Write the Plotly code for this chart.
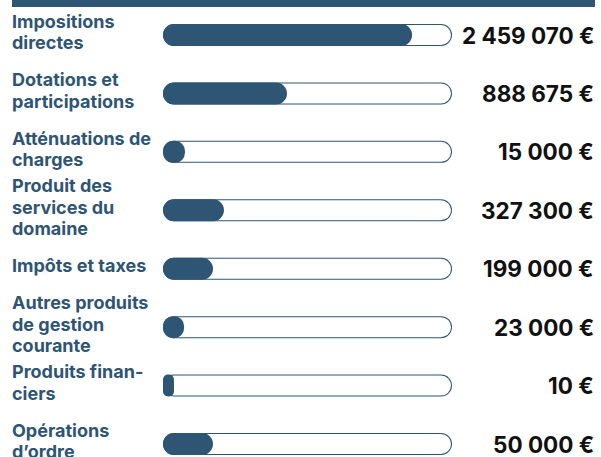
import plotly.graph_objects as go

categories = [
    "Impositions<br>directes",
    "Dotations et<br>participations",
    "Atténuations de<br>charges",
    "Produit des<br>services du<br>domaine",
    "Impôts et taxes",
    "Autres produits<br>de gestion<br>courante",
    "Produits finan-<br>ciers",
    "Opérations<br>d’ordre",
]
value_labels = [
    "2 459 070 €",
    "888 675 €",
    "15 000 €",
    "327 300 €",
    "199 000 €",
    "23 000 €",
    "10 €",
    "50 000 €",
]
# filled share of each gauge (percent of track)
fill_pct = [86.2, 42.9, 7.6, 21.1, 17.3, 7.3, 3.8, 17.3]

W, H = 601, 457
DARK = "#2e5573"
ROW0_PX = 35.0
ROW_STEP = 58.43
TRACK_L, TRACK_R = 163, 452
BAR_PX = 22
LINE_PX = 21.4

n = len(categories)
rows = list(range(n))
y_top = -ROW0_PX / ROW_STEP
y_bot = (H - ROW0_PX) / ROW_STEP
bar_w = BAR_PX / ROW_STEP
inner_w = (BAR_PX - 2) / ROW_STEP
px_unit = 100.0 / (TRACK_R - TRACK_L)

fig = go.Figure()

def capsule(start, end, width, color, radius):
    fig.add_trace(go.Bar(
        orientation="h",
        y=rows,
        base=start,
        x=[e - s for s, e in zip(start, end)],
        width=width,
        marker=dict(color=color, line=dict(width=0), cornerradius=radius),
        hoverinfo="skip",
        showlegend=False,
    ))

capsule([0] * n, [100] * n, bar_w, DARK, BAR_PX / 2)
capsule([px_unit] * n, [100 - px_unit] * n, inner_w, "white", BAR_PX / 2 - 1)
capsule([0] * n, fill_pct, bar_w, DARK, BAR_PX / 2)

for i in rows:
    lines = categories[i].split("<br>")
    m = len(lines)
    for k, line in enumerate(lines):
        fig.add_annotation(
            x=10 / W, xref="paper", xanchor="left",
            y=i, yref="y", yanchor="middle",
            yshift=3 - (k - (m - 1) / 2) * LINE_PX,
            text=line, showarrow=False, align="left",
            font=dict(family="Inter", size=18, color=DARK, weight=700),
        )
    fig.add_annotation(
        x=596 / W, xref="paper", xanchor="right",
        y=i, yref="y", yanchor="middle",
        text=value_labels[i], showarrow=False, align="right",
        font=dict(family="Inter", size=22.5, color="#111111", weight=700),
    )

fig.add_shape(type="rect", xref="paper", yref="paper",
              x0=12 / W, x1=595 / W, y0=1 - 7 / H, y1=1,
              fillcolor=DARK, line=dict(width=0), layer="above")

fig.update_layout(
    width=W, height=H,
    margin=dict(l=0, r=0, t=0, b=0, pad=0),
    paper_bgcolor="white", plot_bgcolor="white",
    barmode="overlay",
    xaxis=dict(domain=[TRACK_L / W, TRACK_R / W], range=[0, 100],
               visible=False, fixedrange=True),
    yaxis=dict(range=[y_bot, y_top], visible=False, fixedrange=True),
    showlegend=False,
)

fig.write_html("out.html", config={"displayModeBar": False},
               post_script="document.body.style.margin='0';")
